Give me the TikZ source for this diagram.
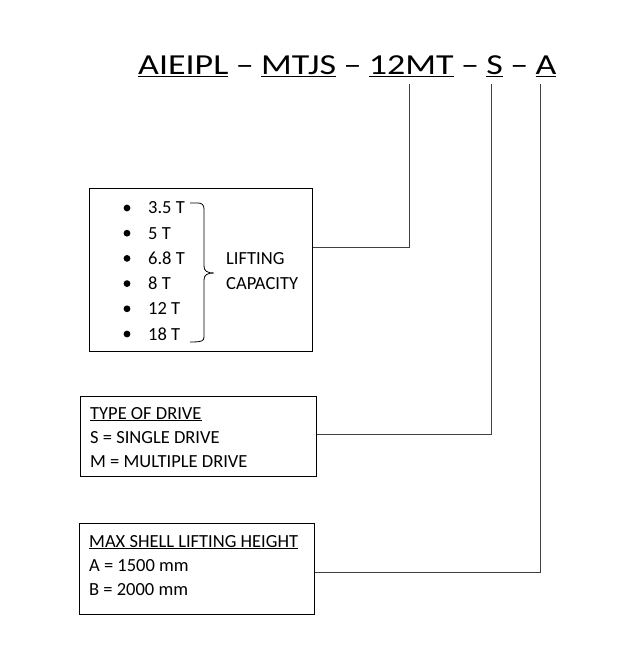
\documentclass[tikz,border=0pt]{standalone}
\usepackage{fontspec}
\usepackage{graphicx}
\setmainfont{Carlito}
\usetikzlibrary{positioning}
\newcommand\wide[1]{\scalebox{1.24}[1]{#1}}
\tikzset{
 box/.style={draw, line width=1pt, inner sep=0pt},
 conn/.style={draw=black!75, line width=1pt},
 part/.style={inner sep=0pt, font=\fontsize{29}{34}\selectfont},
 sep/.style={part, inner xsep=7pt},
 txt/.style={inner sep=0pt, anchor=base west, font=\fontsize{18.5}{22}\selectfont},
}
\begin{document}
\begin{tikzpicture}[x=1pt,y=-1pt]
 \useasboundingbox (0,0) rectangle (643,668);
 % code line
 \node[part, anchor=base west] (aieipl) at (138,75) {\underline{\wide{AIEIPL}}};
 \node[sep, base right=0pt of aieipl] (d1) {\wide{–}};
 \node[part, base right=0pt of d1] (mtjs) {\underline{\wide{MTJS}}};
 \node[sep, base right=0pt of mtjs] (d2) {\wide{–}};
 \node[part, base right=0pt of d2] (mt12) {\underline{\wide{12MT}}};
 \node[sep, base right=0pt of mt12] (d3) {\wide{–}};
 \node[part, base right=0pt of d3] (s) {\underline{\wide{S}}};
 \node[sep, base right=0pt of s] (d4) {\wide{–}};
 \node[part, base right=0pt of d4] (a) {\underline{\wide{A}}};
 % boxes
 \node[box, minimum width=223, minimum height=162] (cap) at (200.5,270) {};
 \node[box, minimum width=236, minimum height=80] (drive) at (198,436) {};
 \node[box, minimum width=235, minimum height=91] (height) at (196.5,568.5) {};
 % capacity list
 \foreach \t [count=\i from 0] in {3.5 T,5 T,6.8 T,8 T,12 T,18 T}{
  \fill (127,208+25.2*\i) circle (3.4);
  \node[txt] (t\i) at (148,214+25.2*\i) {\t};
 }
 \draw[line width=0.8pt] (190,203) -- (198,203) .. controls (202,203) and (204,205) .. (204,209) -- (204,266)
  .. controls (204,271) and (207,273) .. (214,273) .. controls (207,273) and (204,275) .. (204,280)
  -- (204,337) .. controls (204,341) and (202,342) .. (190,342);
 \node[txt] (lift) at (226,264) {LIFTING};
 \node[txt] (capty) at (226,289.4) {CAPACITY};
 % drive
 \node[txt] (drv1) at (90,419) {\underline{TYPE OF DRIVE}};
 \node[txt] (drv2) at (90,443) {S = SINGLE DRIVE};
 \node[txt] (drv3) at (90,467) {M = MULTIPLE DRIVE};
 % height
 \node[txt] (ht1) at (89,547) {\underline{MAX SHELL LIFTING HEIGHT}};
 \node[txt] (ht2) at (89,571) {A = 1500 mm};
 \node[txt] (ht3) at (89,595) {B = 2000 mm};
 % connectors
 \coordinate (c1) at (409,247);
 \coordinate (c2) at (491,434);
 \coordinate (c3) at (540,572);
 \draw[conn, shorten <=7pt] (mt12.south -| c1) -- (c1) -- (c1 -| cap.east);
 \draw[conn, shorten <=7pt] (s.south -| c2) -- (c2) -- (c2 -| drive.east);
 \draw[conn, shorten <=7pt] (a.south -| c3) -- (c3) -- (c3 -| height.east);
\end{tikzpicture}
\end{document}
